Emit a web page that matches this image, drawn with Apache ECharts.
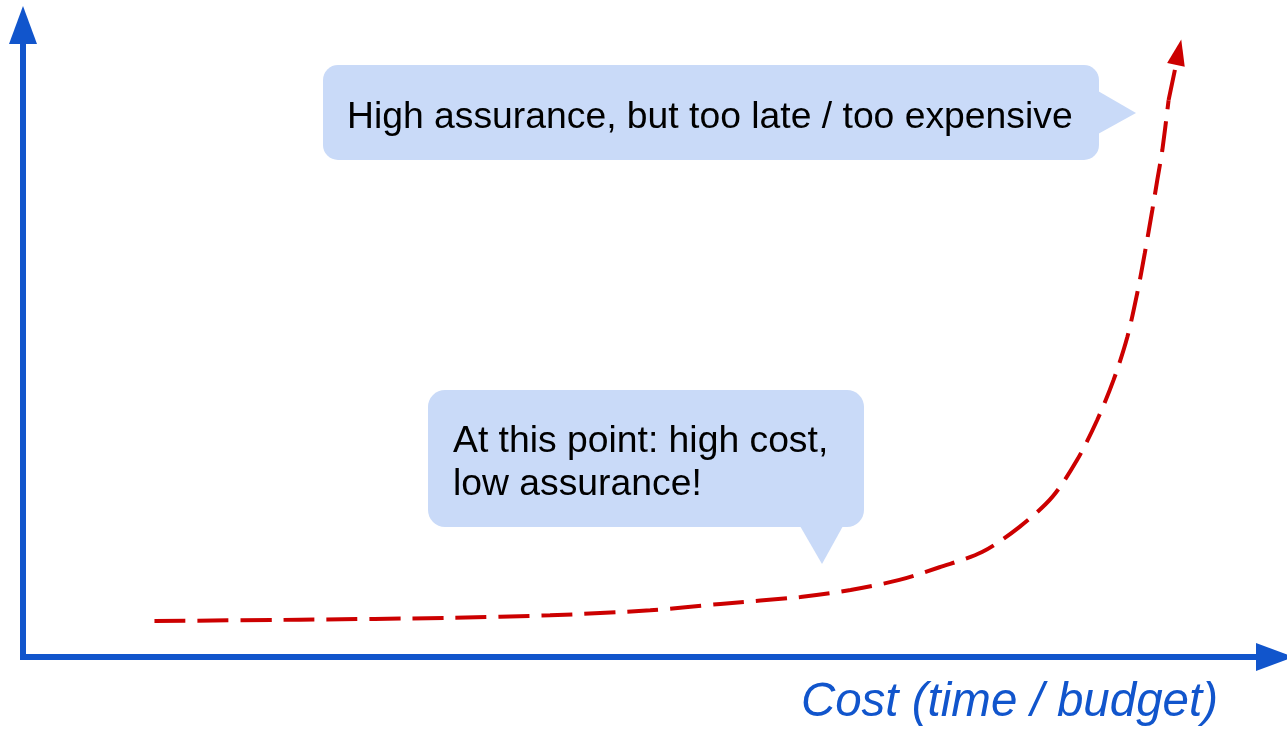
<!DOCTYPE html>
<html>
<head>
<meta charset="utf-8">
<script src="https://cdn.jsdelivr.net/npm/echarts@6/dist/echarts.min.js"></script>
<style>
html,body{margin:0;padding:0;background:#fff;}
#chart{width:1287px;height:730px;}
</style>
</head>
<body>
<div id="chart"></div>
<script>
// Curve values: cost (x) vs assurance-related cost growth (y), in 0..100 units
const costValues = [10.5, 22.1, 34.1, 42.1, 50.1, 55.7, 62.1, 66.1, 70.0, 73.2, 76.6, 79.6, 82.2, 84.2, 85.8, 87.1, 88.2, 89.0, 89.6, 90.2, 90.6, 91.0, 91.5];
const curveValues = [5.7, 5.9, 6.2, 6.6, 7.4, 8.4, 9.5, 10.6, 12.2, 14.2, 16.6, 20.6, 25.3, 31.2, 37.5, 43.8, 50.6, 57.6, 63.9, 70.7, 75.5, 80.2, 88.1];
const arrowEnd = [92.3, 95.7];
const axisName = 'Cost (time / budget)';
const calloutTop = 'High assurance, but too late / too expensive';
const calloutBottom = 'At this point: high cost,\nlow assurance!';

const BLUE = '#1155cc';
const RED = '#cc0000';
const BUBBLE = '#c9daf8';
const FONT = '"Liberation Sans", Arial, sans-serif';

const points = costValues.map((x, i) => [x, curveValues[i]]);
const last = points[points.length - 1];

const chart = echarts.init(document.getElementById('chart'), null, {renderer: 'canvas'});
chart.setOption({
  animation: false,
  backgroundColor: '#ffffff',
  grid: {left: 23, right: 12, top: 25, bottom: 73, containLabel: false},
  xAxis: {
    type: 'value', min: 0, max: 100,
    name: axisName, nameLocation: 'end', nameGap: -57,
    nameTextStyle: {
      color: BLUE, fontSize: 47.5, fontStyle: 'italic', fontFamily: FONT,
      align: 'right', verticalAlign: 'top', padding: [22, 0, 0, 0]
    },
    axisLine: {show: true, symbol: ['none', 'triangle'], symbolSize: [28, 38],
      lineStyle: {color: BLUE, width: 6, cap: 'square'}},
    axisTick: {show: false}, axisLabel: {show: false}, splitLine: {show: false}
  },
  yAxis: {
    type: 'value', min: 0, max: 100,
    axisLine: {show: true, symbol: ['none', 'triangle'], symbolSize: [28, 38],
      lineStyle: {color: BLUE, width: 6, cap: 'square'}},
    axisTick: {show: false}, axisLabel: {show: false}, splitLine: {show: false}
  },
  series: [{
    type: 'line',
    data: points,
    smooth: 0.3,
    showSymbol: false,
    symbol: 'none',
    silent: true,
    lineStyle: {color: RED, width: 4, type: [31, 12]},
    markLine: {
      silent: true,
      animation: false,
      symbol: ['none', 'triangle'],
      symbolSize: [18, 26],
      label: {show: false},
      lineStyle: {color: RED, width: 4, type: [31, 12]},
      data: [[{coord: last}, {coord: arrowEnd}]]
    }
  }],
  graphic: [
    {
      type: 'group', silent: true,
      children: [
        {type: 'rect', shape: {x: 323, y: 65, width: 776, height: 95, r: 15}, style: {fill: BUBBLE}},
        {type: 'polygon', shape: {points: [[1098, 91], [1136, 113], [1098, 134]]}, style: {fill: BUBBLE}},
        {type: 'text', x: 347, y: 118, style: {text: calloutTop, font: '37.3px ' + FONT, fill: '#000000', align: 'left', verticalAlign: 'middle'}}
      ]
    },
    {
      type: 'group', silent: true,
      children: [
        {type: 'rect', shape: {x: 428, y: 390, width: 436, height: 137, r: 17}, style: {fill: BUBBLE}},
        {type: 'polygon', shape: {points: [[800, 526], [843, 526], [822, 564]]}, style: {fill: BUBBLE}},
        {type: 'text', x: 453, y: 463.5, style: {text: calloutBottom, font: '37.3px ' + FONT, lineHeight: 43, fill: '#000000', align: 'left', verticalAlign: 'middle'}}
      ]
    }
  ]
});
</script>
</body>
</html>
